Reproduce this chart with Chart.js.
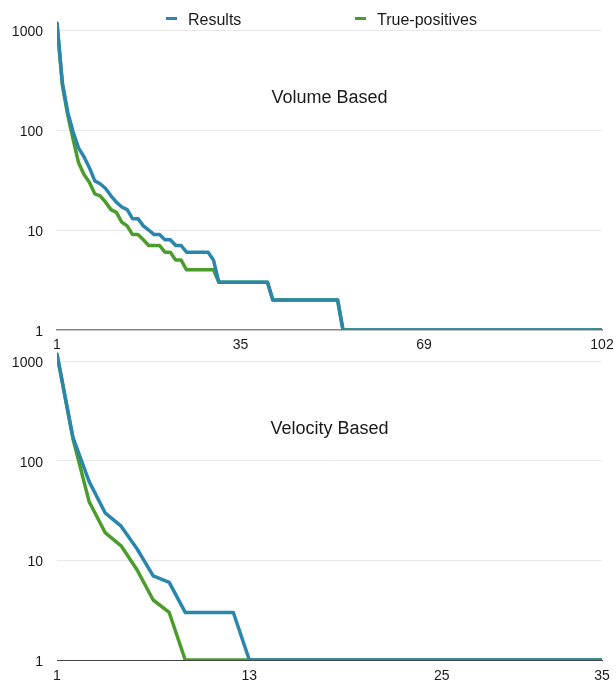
<!DOCTYPE html>
<html>
<head>
<meta charset="utf-8">
<script src="https://cdn.jsdelivr.net/npm/chart.js@4/dist/chart.umd.min.js"></script>
<style>
  body { margin: 0; background: #fff; }
  #wrap { position: relative; width: 616px; height: 682px; overflow: hidden;
          font-family: "Liberation Sans", Arial, Helvetica, sans-serif; }
  canvas { position: absolute; left: 0; }
  #c1 { top: 0; }
  #c2 { top: 340px; }
  .lg { position: absolute; font-size: 16px; line-height: 16px; color: #1a1a1a; white-space: nowrap; }
  .mk { position: absolute; width: 11px; height: 3px; }
</style>
</head>
<body>
<div id="wrap">
  <canvas id="c1" width="616" height="352"></canvas>
  <canvas id="c2" width="616" height="342"></canvas>
</div>
<script>
// ---------- data ----------
const seriesNames = ["Results", "True-positives"];
const seriesColors = ["#2a86ad", "#4b9c2b"];

const volumeTitle = "Volume Based";
const volumeResults = [
  1170, 295, 150, 95, 66, 54, 42, 31, 29, 26,
  22, 19, 17, 16, 13, 13, 11, 10, 9, 9,
  8, 8, 7, 7, 6, 6, 6, 6, 6, 5,
  3, 3, 3, 3, 3, 3, 3, 3, 3, 3,
  2, 2, 2, 2, 2, 2, 2, 2, 2, 2, 2, 2, 2,
  1, 1, 1, 1, 1, 1, 1, 1, 1, 1,
  1, 1, 1, 1, 1, 1, 1, 1, 1, 1,
  1, 1, 1, 1, 1, 1, 1, 1, 1, 1,
  1, 1, 1, 1, 1, 1, 1, 1, 1, 1,
  1, 1, 1, 1, 1, 1, 1, 1, 1
];
const volumeTruePositives = [
  1170, 280, 140, 80, 47, 36, 30, 23, 22, 19,
  16, 15, 12, 11, 9, 9, 8, 7, 7, 7,
  6, 6, 5, 5, 4, 4, 4, 4, 4, 4,
  3, 3, 3, 3, 3, 3, 3, 3, 3, 3,
  2, 2, 2, 2, 2, 2, 2, 2, 2, 2, 2, 2, 2,
  1, 1, 1, 1, 1, 1, 1, 1, 1, 1,
  1, 1, 1, 1, 1, 1, 1, 1, 1, 1,
  1, 1, 1, 1, 1, 1, 1, 1, 1, 1,
  1, 1, 1, 1, 1, 1, 1, 1, 1, 1,
  1, 1, 1, 1, 1, 1, 1, 1, 1
];
const volumeXTicks = [1, 35, 69, 102];

const velocityTitle = "Velocity Based";
const velocityResults = [
  1170, 170, 62, 30, 22, 13, 7, 6, 3, 3,
  3, 3, 1, 1, 1, 1, 1, 1, 1, 1,
  1, 1, 1, 1, 1, 1, 1, 1, 1, 1,
  1, 1, 1, 1, 1
];
const velocityTruePositives = [
  1170, 165, 39, 19, 14, 8, 4, 3, 1, 1,
  1, 1, 1, 1, 1, 1, 1, 1, 1, 1,
  1, 1, 1, 1, 1, 1, 1, 1, 1, 1,
  1, 1, 1, 1, 1
];
const velocityXTicks = [1, 13, 25, 35];

const yTicks = [1, 10, 100, 1000];
const yMax = 1320;

// ---------- rendering ----------
const FONT = '"Liberation Sans", Arial, Helvetica, sans-serif';
Chart.defaults.font.family = FONT;

// HTML legend
const wrap = document.getElementById("wrap");
const legendMarkerX = [166, 355];
const legendTextX = [188, 377];
seriesNames.forEach((name, i) => {
  const mk = document.createElement("div");
  mk.className = "mk";
  mk.style.left = legendMarkerX[i] + "px";
  mk.style.top = "17px";
  mk.style.background = seriesColors[i];
  wrap.appendChild(mk);
  const tx = document.createElement("div");
  tx.className = "lg";
  tx.style.left = legendTextX[i] + "px";
  tx.style.top = "12px";
  tx.textContent = name;
  wrap.appendChild(tx);
});

const innerTitle = {
  id: "innerTitle",
  afterDraw(chart, args, opts) {
    const { ctx, chartArea } = chart;
    ctx.save();
    ctx.font = "18px " + FONT;
    ctx.fillStyle = "#1a1a1a";
    ctx.textAlign = "center";
    ctx.textBaseline = "alphabetic";
    ctx.fillText(opts.text, (chartArea.left + chartArea.right) / 2, chartArea.top + opts.offset);
    ctx.restore();
  }
};

function makeChart(id, title, results, truePos, xTicks, padTop, xTickLen, baseColor, baseWidth) {
  const toPts = arr => arr.map((v, i) => ({ x: i + 1, y: v }));
  const mkDs = (k, arr) => ({
    label: seriesNames[k],
    data: toPts(arr),
    borderColor: seriesColors[k],
    backgroundColor: seriesColors[k],
    borderWidth: 3.5,
    pointRadius: 0,
    tension: 0,
    fill: false,
    borderJoinStyle: "round",
    borderCapStyle: "round"
  });
  return new Chart(document.getElementById(id), {
    type: "line",
    data: { datasets: [mkDs(0, results), mkDs(1, truePos)] },
    options: {
      responsive: false,
      animation: false,
      devicePixelRatio: 1,
      layout: { padding: { top: padTop, right: 14, left: 0, bottom: 0 } },
      plugins: {
        legend: { display: false },
        tooltip: { enabled: false },
        innerTitle: { text: title, offset: 85 }
      },
      scales: {
        x: {
          type: "linear",
          min: xTicks[0],
          max: xTicks[xTicks.length - 1],
          afterBuildTicks: s => { s.ticks = xTicks.map(v => ({ value: v })); },
          afterFit: s => { s.height = 22; },
          grid: { display: true, drawOnChartArea: false, color: "rgba(0,0,0,0)",
                  drawTicks: true, tickLength: xTickLen, tickColor: "rgba(0,0,0,0)" },
          border: { display: true, color: baseColor, width: baseWidth },
          ticks: {
            autoSkip: false, maxRotation: 0, padding: 0,
            color: "#1a1a1a", font: { size: 14, family: FONT },
            callback: v => String(v)
          }
        },
        y: {
          type: "logarithmic",
          min: yTicks[0],
          max: yMax,
          afterBuildTicks: s => { s.ticks = yTicks.map(v => ({ value: v })); },
          afterFit: s => { s.width = 57; },
          grid: {
            drawTicks: true,
            tickLength: 14,
            tickColor: "rgba(0,0,0,0)",
            lineWidth: 1,
            color: c => (c.tick && c.tick.value === 1) ? "rgba(0,0,0,0)" : "#e8e8e8"
          },
          border: { display: false },
          ticks: {
            padding: 0,
            labelOffset: 2,
            color: "#1a1a1a", font: { size: 14, family: FONT },
            callback: v => String(v)
          }
        }
      }
    },
    plugins: [innerTitle]
  });
}

makeChart("c1", volumeTitle, volumeResults, volumeTruePositives, volumeXTicks, 18, 7, "#888", 1.5);
makeChart("c2", velocityTitle, velocityResults, velocityTruePositives, velocityXTicks, 9, 8, "#444", 1);
</script>
</body>
</html>
